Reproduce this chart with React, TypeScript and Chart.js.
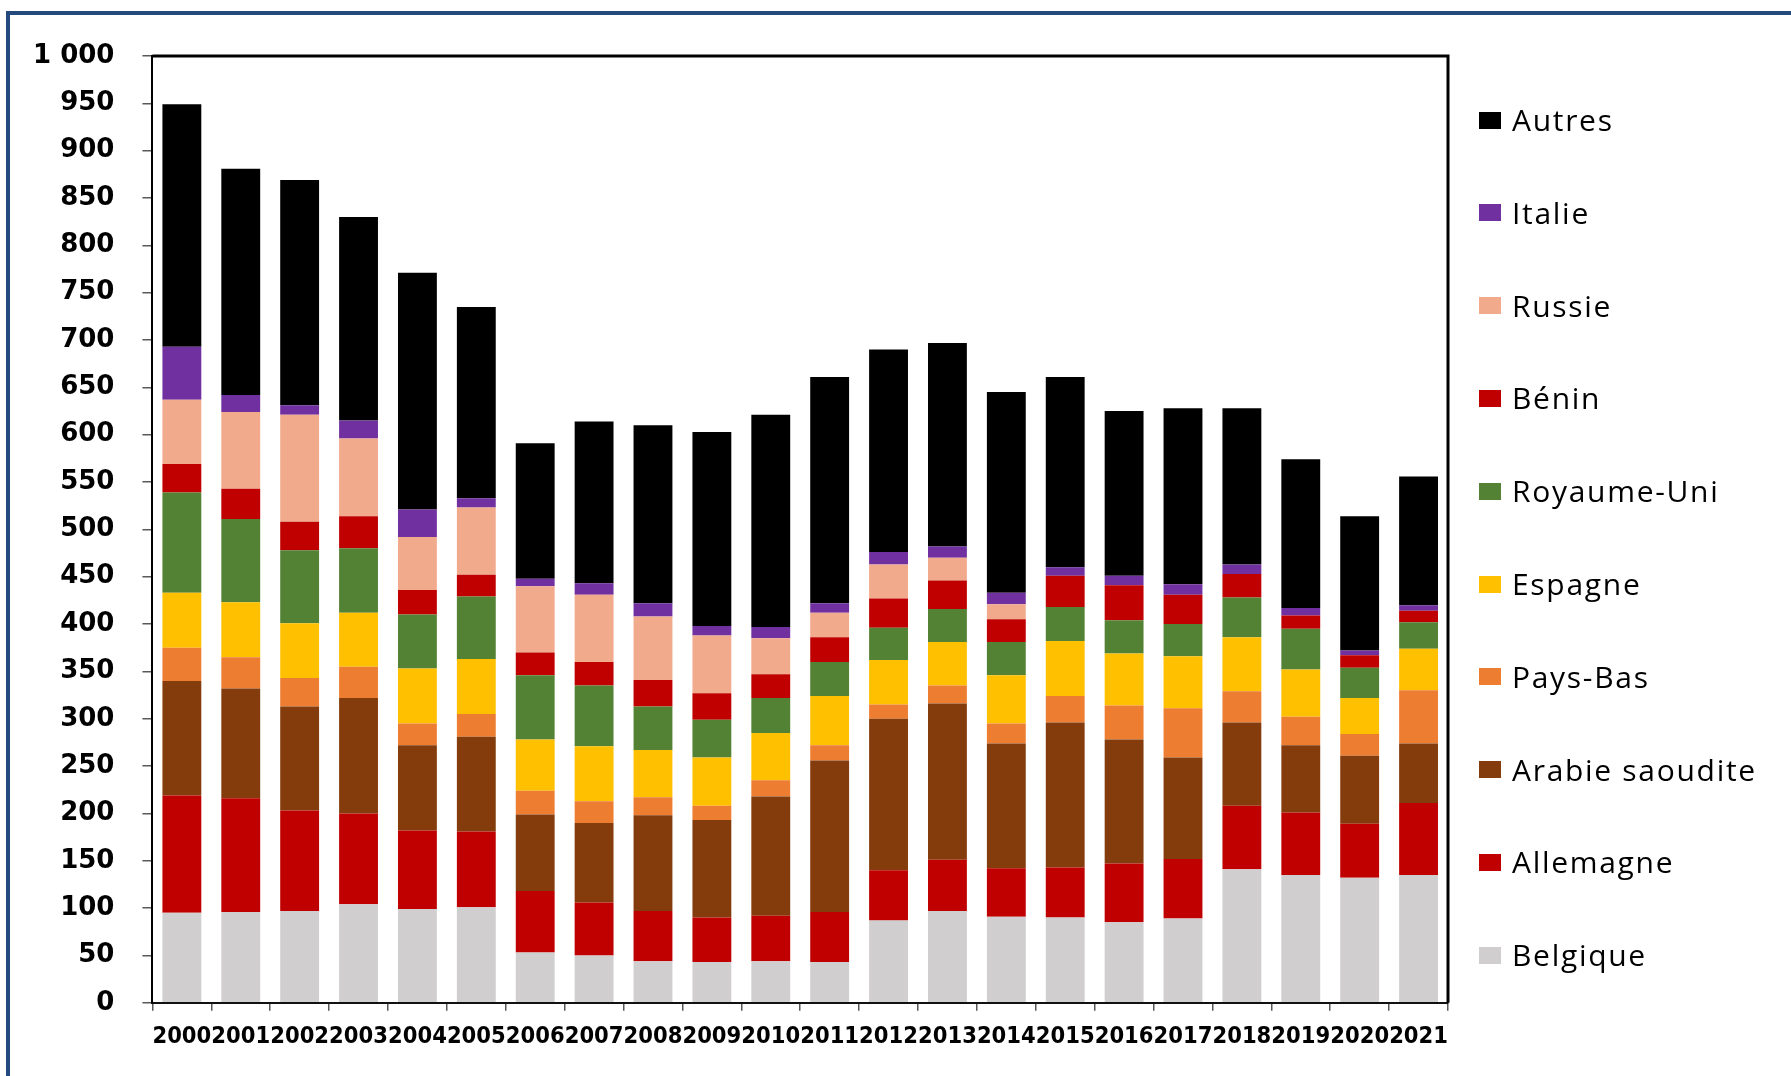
import React, { useEffect, useRef } from 'react';
import { Chart, registerables } from 'chart.js';

Chart.register(...registerables);

const years = ['2000','2001','2002','2003','2004','2005','2006','2007','2008','2009','2010','2011','2012','2013','2014','2015','2016','2017','2018','2019','2020','2021'];

const belgique   = [95, 96, 97, 104, 99, 101, 53, 50, 44, 43, 44, 43, 87, 97, 91, 90, 85, 89, 141, 135, 132, 135];
const allemagne  = [124, 120, 106, 96, 83, 80, 65, 56, 53, 47, 48, 53, 53, 54, 51, 53, 62, 63, 67, 66, 57, 76];
const arabie     = [121, 116, 110, 122, 90, 100, 81, 84, 101, 103, 126, 160, 160, 165, 132, 153, 131, 107, 88, 71, 72, 63];
const paysBas    = [35, 33, 30, 33, 23, 24, 25, 23, 19, 15, 17, 16, 15, 19, 21, 28, 36, 52, 33, 30, 23, 56];
const espagne    = [58, 58, 58, 57, 58, 58, 54, 58, 50, 51, 50, 52, 47, 46, 51, 58, 55, 55, 57, 50, 38, 44];
const royaumeUni = [106, 88, 77, 68, 57, 66, 68, 64, 46, 40, 37, 36, 34, 35, 35, 36, 35, 34, 42, 43, 32, 28];
const benin      = [30, 32, 30, 34, 26, 23, 24, 25, 28, 28, 25, 26, 31, 30, 24, 33, 37, 31, 25, 14, 13, 12];
const russie     = [68, 81, 113, 82, 56, 71, 70, 71, 67, 61, 38, 26, 36, 24, 16, 0, 0, 0, 0, 0, 0, 0];
const italie     = [56, 18, 10, 19, 29, 10, 8, 12, 14, 10, 12, 10, 13, 12, 12, 9, 10, 11, 10, 8, 5, 6];
const autres     = [256, 239, 238, 215, 250, 202, 143, 171, 188, 205, 224, 239, 214, 215, 212, 201, 174, 186, 165, 157, 142, 136];

const seriesLabels = ['Belgique', 'Allemagne', 'Arabie saoudite', 'Pays-Bas', 'Espagne', 'Royaume-Uni', 'Bénin', 'Russie', 'Italie', 'Autres'];
const seriesData = [belgique, allemagne, arabie, paysBas, espagne, royaumeUni, benin, russie, italie, autres];
const seriesColors = ['#D0CECE', '#C00000', '#843C0C', '#ED7D31', '#FFC000', '#548235', '#C00000', '#F2AA8C', '#7030A0', '#000000'];

const yMax = 1000;
const yStep = 50;

function formatTick(v: number): string {
  const s = String(Math.round(v));
  return s.replace(/\B(?=(\d{3})+(?!\d))/g, ' ');
}

export default function App() {
  const ref = useRef<HTMLCanvasElement>(null);

  useEffect(() => {
    if (!ref.current) return;
    const framePlugin = {
      id: 'frameLines',
      afterDatasetsDraw(chart: any) {
        const { ctx, chartArea: a } = chart;
        ctx.save();
        ctx.strokeStyle = '#000';
        ctx.lineWidth = 3;
        ctx.beginPath();
        ctx.moveTo(a.left, a.top);
        ctx.lineTo(a.right, a.top);
        ctx.lineTo(a.right, a.bottom);
        ctx.stroke();
        ctx.restore();
      },
    };
    const chart = new Chart(ref.current, {
      type: 'bar',
      data: {
        labels: years,
        datasets: seriesLabels.map((label, i) => ({
          label,
          data: seriesData[i],
          backgroundColor: seriesColors[i],
          borderWidth: 0,
          barPercentage: 0.66,
          categoryPercentage: 1,
        })),
      },
      options: {
        responsive: false,
        animation: false,
        layout: { padding: { left: 5, right: 343, top: 56, bottom: 13 } },
        plugins: {
          legend: { display: false },
          tooltip: { enabled: false },
        },
        scales: {
          x: {
            stacked: true,
            grid: {
              display: true,
              drawOnChartArea: false,
              drawTicks: true,
              tickLength: 8,
              color: '#595959',
              lineWidth: 1.5,
              offset: true,
            },
            border: { display: true, color: '#111', width: 2 },
            ticks: {
              color: '#000',
              font: { family: '"DejaVu Sans Condensed", "DejaVu Sans", sans-serif', weight: 'bold', size: 23.5 },
              padding: 12,
              autoSkip: false,
              maxRotation: 0,
              minRotation: 0,
            },
          },
          y: {
            stacked: true,
            min: 0,
            max: yMax,
            ticks: {
              stepSize: yStep,
              color: '#000',
              font: { family: '"DejaVu Sans", sans-serif', weight: 'bold', size: 26 },
              padding: 28,
              callback: (v: any) => formatTick(Number(v)),
            },
            grid: {
              drawOnChartArea: false,
              drawTicks: true,
              tickLength: 10,
              color: '#595959',
              lineWidth: 1.5,
            },
            border: { display: true, color: '#000', width: 2 },
          },
        },
      } as any,
      plugins: [framePlugin],
    });
    return () => chart.destroy();
  }, []);

  const legendOrder = seriesLabels.map((_, i) => i).reverse();

  return (
    <div style={{ position: 'absolute', left: 0, top: 0, width: 1791, height: 1076, background: '#fff', overflow: 'hidden' }}>
      <div
        style={{
          position: 'absolute',
          left: 6,
          top: 11,
          right: 0,
          bottom: 0,
          borderLeft: '4px solid #23497d',
          borderTop: '4px solid #23497d',
        }}
      />
      <canvas ref={ref} width={1791} height={1076} style={{ position: 'absolute', left: 0, top: 0, width: 1791, height: 1076 }} />
      {legendOrder.map((idx, row) => {
        const cy = 120 + row * 92.8;
        return (
          <React.Fragment key={seriesLabels[idx]}>
            <div
              style={{
                position: 'absolute',
                left: 1479,
                top: cy - 8.5,
                width: 22,
                height: 17,
                background: seriesColors[idx],
              }}
            />
            <div
              style={{
                position: 'absolute',
                left: 1512,
                top: cy - 20,
                height: 40,
                lineHeight: '40px',
                fontFamily: '"Open Sans", sans-serif',
                fontSize: 30,
                letterSpacing: '1.7px',
                color: '#000',
                whiteSpace: 'nowrap',
              }}
            >
              {seriesLabels[idx]}
            </div>
          </React.Fragment>
        );
      })}
    </div>
  );
}
